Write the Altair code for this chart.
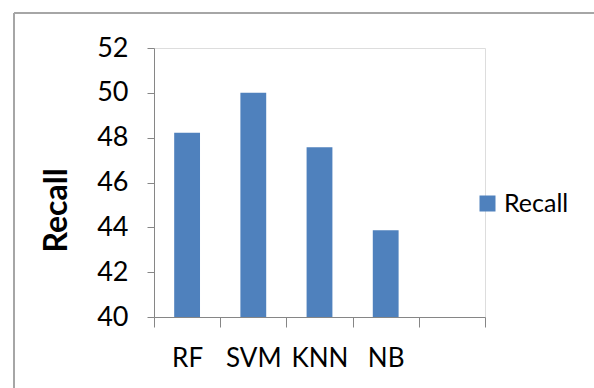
import altair as alt
import pandas as pd

# Recall per classifier
models = ["RF", "SVM", "KNN", "NB"]
recall = [48.22, 50.0, 47.57, 43.87]
series = ["Recall", "Recall", "Recall", "Recall"]

# an empty fifth slot on the category axis
x_domain = models + [""]
y_ticks = [40, 42, 44, 46, 48, 50, 52]

df = pd.DataFrame({"model": models, "recall": recall, "series": series})

FONT = "Lato"
AXIS_GREY = "#868686"
FRAME_GREY = "#a6a6a6"

bars = alt.Chart(df).mark_bar(width=alt.RelativeBandSize(0.39)).encode(
    x=alt.X(
        "model:N",
        sort=x_domain,
        scale=alt.Scale(domain=x_domain, paddingInner=0, paddingOuter=0),
        axis=alt.Axis(
            title=None,
            labelAngle=0,
            tickBand="extent",
            tickSize=10,
            labelPadding=18,
            labelFont=FONT,
            labelFontSize=26,
            labelColor="#000000",
            domainColor=AXIS_GREY,
            tickColor=AXIS_GREY,
        ),
    ),
    y=alt.Y(
        "recall:Q",
        stack=None,
        scale=alt.Scale(domain=[40, 52], nice=False, zero=False),
        axis=alt.Axis(
            values=y_ticks,
            grid=False,
            tickSize=7,
            labelPadding=19,
            labelFont=FONT,
            labelFontSize=27,
            labelColor="#000000",
            domainColor=AXIS_GREY,
            tickColor=AXIS_GREY,
            title="Recall",
            titleFont=FONT,
            titleFontSize=32,
            titleFontWeight="bold",
            titleColor="#000000",
            titleAngle=270,
            titleAlign="center",
            titleBaseline="alphabetic",
            titleX=-87.5,
            titleY=162,
        ),
    ),
    color=alt.Color(
        "series:N",
        scale=alt.Scale(range=["#4F81BD"]),
        legend=alt.Legend(
            title=None,
            orient="none",
            legendX=321,
            legendY=143,
            padding=0,
            symbolType="square",
            symbolSize=256,
            symbolStrokeWidth=0,
            symbolOpacity=1,
            labelFont=FONT,
            labelFontSize=25,
            labelColor="#000000",
            labelOffset=4,
        ),
    ),
)

# outer chart frame (top and left edges)
frame_top = alt.Chart(df).mark_rule(color=FRAME_GREY, strokeWidth=1.5).encode(
    x=alt.value(-140), x2=alt.value(460), y=alt.value(-35)
)
frame_left = alt.Chart(df).mark_rule(color=FRAME_GREY, strokeWidth=1.5).encode(
    x=alt.value(-140), y=alt.value(-35), y2=alt.value(360)
)

chart = (
    alt.layer(frame_top, frame_left, bars)
    .properties(
        width=331,
        height=269,
        autosize=alt.AutoSizeParams(type="none"),
        padding={"left": 154, "top": 48, "right": 109, "bottom": 71},
    )
    .configure_view(stroke=None)
    .configure(background="#ffffff")
)

chart.save("out.html", embed_options={"renderer": "svg", "actions": False})
